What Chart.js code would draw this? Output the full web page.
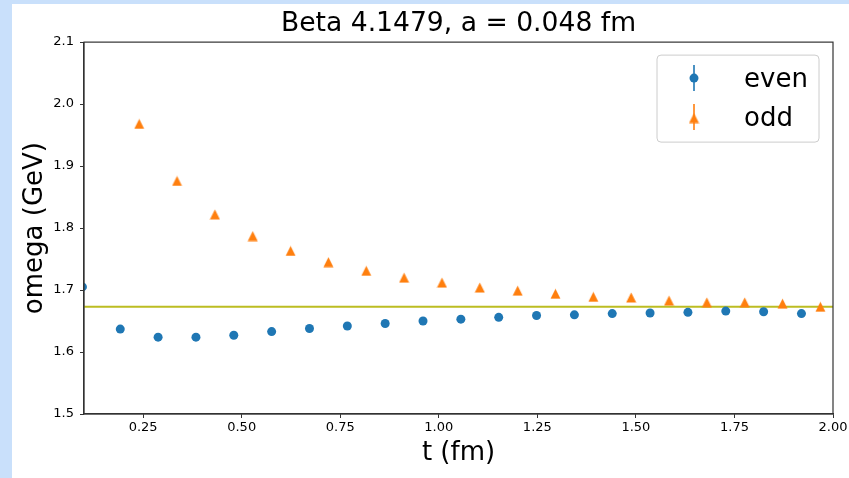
<!DOCTYPE html>
<html>
<head>
<meta charset="utf-8">
<script src="https://cdn.jsdelivr.net/npm/chart.js@4.4.1/dist/chart.umd.min.js"></script>
<style>
  html, body { margin: 0; padding: 0; }
  body { width: 849px; height: 478px; background: #c9e0fb; position: relative; overflow: hidden; }
  #frame { position: absolute; left: 12px; top: 4px; width: 837px; height: 474px; background: #fff; }
  canvas { display: block; }
</style>
</head>
<body>
<div id="frame"><canvas id="omegaChart" width="837" height="474"></canvas></div>
<script>
// Effective energy omega(t) at beta = 4.1479, a = 0.048 fm
const evenT = [0.096, 0.192, 0.288, 0.384, 0.48, 0.576, 0.672, 0.768, 0.864, 0.96,
               1.056, 1.152, 1.248, 1.344, 1.44, 1.536, 1.632, 1.728, 1.824, 1.92];
const evenOmega = [1.705, 1.637, 1.624, 1.624, 1.627, 1.633, 1.638, 1.642, 1.646, 1.650,
                   1.653, 1.656, 1.659, 1.660, 1.662, 1.663, 1.664, 1.666, 1.665, 1.662];

const oddT = [0.24, 0.336, 0.432, 0.528, 0.624, 0.72, 0.816, 0.912, 1.008, 1.104,
              1.2, 1.296, 1.392, 1.488, 1.584, 1.68, 1.776, 1.872, 1.968];
const oddOmega = [1.968, 1.876, 1.822, 1.787, 1.763, 1.745, 1.731, 1.720, 1.712, 1.704,
                  1.699, 1.694, 1.689, 1.688, 1.683, 1.680, 1.680, 1.678, 1.673];

// plateau fit value
const plateau = 1.673;

const xRange = [0.1, 2.0];
const yRange = [1.5, 2.1];
const xTicks = [0.25, 0.5, 0.75, 1.0, 1.25, 1.5, 1.75, 2.0];
const yTicks = [1.5, 1.6, 1.7, 1.8, 1.9, 2.0, 2.1];

const BLUE = "#1f77b4";
const ORANGE = "#ff7f0e";
const OLIVE = "#bcbd22";
const AXIS = "#333333";
const FONT = "'DejaVu Sans', sans-serif";

// matplotlib-style "^" marker (centred on its bounding box)
function triangleMarker(color, size) {
  const c = document.createElement("canvas");
  c.width = size;
  c.height = size;
  const g = c.getContext("2d");
  g.fillStyle = color;
  g.beginPath();
  g.moveTo(size / 2, 0.5);
  g.lineTo(0.5, size - 0.5);
  g.lineTo(size - 0.5, size - 0.5);
  g.closePath();
  g.fill();
  return c;
}

const toPoints = (xs, ys) => xs.map((x, i) => ({ x: x, y: ys[i] }));

// closed box round the plot area, drawn over the markers like mpl spines
const spinesPlugin = {
  id: "spines",
  afterDatasetsDraw(chart) {
    const { ctx, chartArea: a } = chart;
    ctx.save();
    ctx.strokeStyle = AXIS;
    ctx.lineWidth = 1.2;
    ctx.strokeRect(a.left, a.top, a.right - a.left, a.bottom - a.top);
    ctx.restore();
  },
};

// legend with errorbar-style handles in the upper right corner
const boxLegendPlugin = {
  id: "boxLegend",
  afterDraw(chart) {
    const { ctx, chartArea: a } = chart;
    const box = { x: a.right - 176, y: a.top + 13, w: 162, h: 87 };
    ctx.save();
    ctx.fillStyle = "rgba(255,255,255,0.8)";
    ctx.strokeStyle = "#cccccc";
    ctx.lineWidth = 1;
    ctx.beginPath();
    ctx.roundRect(box.x, box.y, box.w, box.h, 4);
    ctx.fill();
    ctx.stroke();

    const rows = chart.data.datasets.filter((d) => d.inLegend);
    rows.forEach((ds, i) => {
      const cy = box.y + 23 + i * 39;
      const mx = box.x + 37;
      ctx.strokeStyle = ds.backgroundColor;
      ctx.lineWidth = 1.6;
      ctx.beginPath();
      ctx.moveTo(mx, cy - 13);
      ctx.lineTo(mx, cy + 13);
      ctx.stroke();
      if (typeof ds.pointStyle === "string") {
        ctx.fillStyle = ds.backgroundColor;
        ctx.beginPath();
        ctx.arc(mx, cy, ds.pointRadius, 0, Math.PI * 2);
        ctx.fill();
      } else {
        const img = ds.pointStyle;
        ctx.drawImage(img, mx - img.width / 2, cy - img.height / 2 + 1);
      }
      ctx.fillStyle = "#000";
      ctx.font = "26px " + FONT;
      ctx.textBaseline = "middle";
      ctx.textAlign = "left";
      ctx.fillText(ds.label, box.x + 87, cy + 2);
    });
    ctx.restore();
  },
};

const chart = new Chart(document.getElementById("omegaChart"), {
  type: "scatter",
  data: {
    datasets: [
      {
        label: "even",
        data: toPoints(evenT, evenOmega),
        pointStyle: "circle",
        pointRadius: 4.5,
        pointBorderWidth: 0,
        backgroundColor: BLUE,
        borderColor: BLUE,
        inLegend: true,
        order: 1,
      },
      {
        label: "odd",
        data: toPoints(oddT, oddOmega),
        pointStyle: triangleMarker(ORANGE, 11),
        pointRadius: 5.5,
        backgroundColor: ORANGE,
        borderColor: ORANGE,
        inLegend: true,
        order: 0,
      },
      {
        label: "plateau",
        type: "line",
        data: toPoints(xRange, [plateau, plateau]),
        borderColor: OLIVE,
        borderWidth: 2,
        pointRadius: 0,
        inLegend: false,
        order: 2,
      },
    ],
  },
  options: {
    responsive: false,
    animation: false,
    events: [],
    layout: { padding: { left: 0, right: 16, top: 0, bottom: 0 } },
    plugins: {
      legend: { display: false },
      tooltip: { enabled: false },
      title: {
        display: true,
        fullSize: false,
        text: "Beta 4.1479, a = 0.048 fm",
        color: "#000",
        font: { family: FONT, size: 26.6, weight: "normal" },
        padding: { top: 4.4, bottom: 1.8 },
      },
    },
    scales: {
      x: {
        type: "linear",
        min: xRange[0],
        max: xRange[1],
        afterBuildTicks: (s) => { s.ticks = xTicks.map((v) => ({ value: v })); },
        afterFit: (s) => { s.height = 64; s.paddingLeft = 0; s.paddingRight = 0; },
        ticks: {
          callback: (v) => v.toFixed(2),
          color: "#000",
          font: { family: FONT, size: 13 },
          padding: 2,
          maxRotation: 0,
          autoSkip: false,
        },
        grid: { drawOnChartArea: false, tickLength: 4, tickColor: AXIS, tickWidth: 1 },
        border: { color: AXIS, width: 1.2 },
        title: {
          display: true,
          text: "t (fm)",
          color: "#000",
          font: { family: FONT, size: 26 },
          padding: { top: 0, bottom: 9.4 },
        },
      },
      y: {
        type: "linear",
        min: yRange[0],
        max: yRange[1],
        afterBuildTicks: (s) => { s.ticks = yTicks.map((v) => ({ value: v })); },
        afterFit: (s) => { s.width = 72; s.paddingTop = 0; s.paddingBottom = 0; },
        ticks: {
          callback: (v) => v.toFixed(1),
          color: "#000",
          font: { family: FONT, size: 13 },
          padding: 6,
        },
        grid: { drawOnChartArea: false, tickLength: 4, tickColor: AXIS, tickWidth: 1 },
        border: { color: AXIS, width: 1.2 },
        title: {
          display: true,
          text: "omega (GeV)",
          color: "#000",
          font: { family: FONT, size: 26 },
          padding: { top: 7.4, bottom: 0 },
        },
      },
    },
  },
  plugins: [spinesPlugin, boxLegendPlugin],
});
</script>
</body>
</html>
